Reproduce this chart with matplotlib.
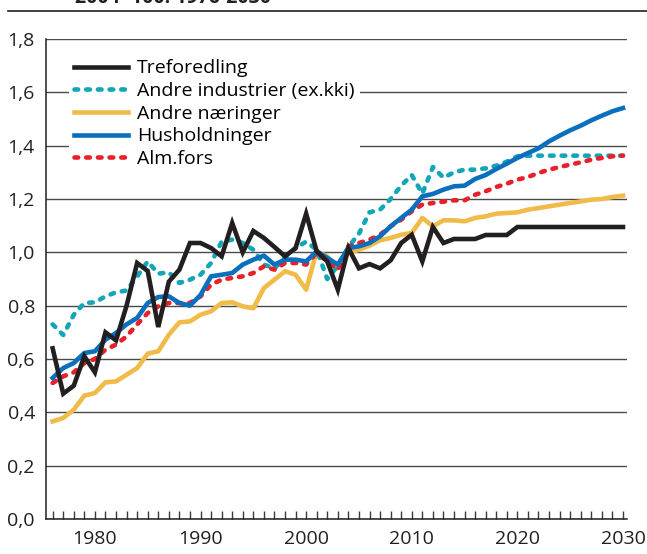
import numpy as np
import matplotlib.pyplot as plt
from matplotlib.ticker import MultipleLocator, FuncFormatter
from matplotlib.lines import Line2D

plt.rcParams['font.family'] = ['Open Sans', 'DejaVu Sans']

# ---------------------------------------------------------------------------
# Data (index), years 1976-2030
# ---------------------------------------------------------------------------
years = np.arange(1976, 2031)

treforedling = [
    0.64, 0.47, 0.50, 0.61, 0.55, 0.70, 0.67, 0.80, 0.96, 0.93,
    0.72, 0.89, 0.935, 1.035, 1.035, 1.016, 0.985, 1.11, 1.00, 1.08,
    1.054, 1.02, 0.985, 1.016, 1.145, 1.004, 0.966, 0.86, 1.016, 0.94,
    0.956, 0.94, 0.97, 1.035, 1.066, 0.966, 1.095, 1.035, 1.05, 1.05,
    1.05, 1.065, 1.065, 1.065, 1.095, 1.095, 1.095, 1.095, 1.095, 1.095,
    1.095, 1.095, 1.095, 1.095, 1.095,
]

andre_industrier = [
    0.73, 0.69, 0.766, 0.81, 0.8125, 0.835, 0.85, 0.857, 0.91, 0.966,
    0.92, 0.925, 0.885, 0.8975, 0.916, 0.96, 1.04, 1.0475, 1.035, 1.01,
    0.954, 0.94, 0.979, 1.016, 1.04, 1.01, 0.90, 0.95, 1.02, 1.07,
    1.15, 1.16, 1.20, 1.25, 1.29, 1.22, 1.32, 1.28, 1.30, 1.31,
    1.31, 1.315, 1.325, 1.34, 1.36, 1.3625, 1.3625, 1.3625, 1.3625, 1.3625,
    1.3625, 1.3625, 1.3625, 1.3625, 1.3625,
]

andre_naeringer = [
    0.366, 0.379, 0.41, 0.4625, 0.4725, 0.5125, 0.516, 0.541, 0.566, 0.62,
    0.629, 0.691, 0.7375, 0.741, 0.766, 0.779, 0.81, 0.8125, 0.7975, 0.79,
    0.866, 0.8975, 0.929, 0.916, 0.86, 1.004, 0.985, 0.94, 0.9975, 1.01,
    1.025, 1.045, 1.054, 1.066, 1.0725, 1.129, 1.0975, 1.12, 1.12, 1.116,
    1.129, 1.135, 1.145, 1.1475, 1.15, 1.16, 1.166, 1.1725, 1.179, 1.185,
    1.191, 1.1975, 1.20, 1.2075, 1.2125,
]

husholdninger = [
    0.529, 0.566, 0.585, 0.6225, 0.629, 0.6725, 0.6975, 0.73, 0.754, 0.81,
    0.8325, 0.835, 0.81, 0.80, 0.84, 0.91, 0.916, 0.9225, 0.954, 0.9725,
    0.9875, 0.954, 0.9725, 0.9725, 0.966, 1.004, 0.979, 0.954, 1.016, 1.0225,
    1.035, 1.06, 1.0975, 1.129, 1.16, 1.21, 1.219, 1.235, 1.2475, 1.25,
    1.275, 1.29, 1.3125, 1.3325, 1.354, 1.3725, 1.39, 1.416, 1.4375, 1.4575,
    1.475, 1.495, 1.5125, 1.529, 1.541,
]

alm_fors = [
    0.51, 0.535, 0.55, 0.585, 0.60, 0.635, 0.654, 0.685, 0.73, 0.7725,
    0.7975, 0.81, 0.81, 0.81, 0.835, 0.879, 0.8975, 0.904, 0.91, 0.9225,
    0.9475, 0.935, 0.96, 0.96, 0.954, 0.9975, 0.966, 0.935, 1.0225, 1.035,
    1.0475, 1.066, 1.0975, 1.1225, 1.154, 1.179, 1.185, 1.19, 1.195, 1.195,
    1.216, 1.229, 1.245, 1.2575, 1.2725, 1.2825, 1.2975, 1.31, 1.32, 1.329,
    1.3375, 1.3475, 1.354, 1.36, 1.3625,
]

# ---------------------------------------------------------------------------
# Figure
# ---------------------------------------------------------------------------
COL_SORT = "#231f20"
COL_TEAL = "#12a6b6"
COL_GUL = "#f0bb48"
COL_BLA = "#0a6fbd"
COL_ROD = "#e8202a"

fig = plt.figure(figsize=(6.47, 5.54), dpi=100)
ax = fig.add_axes([46 / 647, 1 - 519 / 554, (627 - 46) / 647, (519 - 39) / 554])

LW = 3.3
prikk = (0, (0.8, 1.75))

ax.plot(years, treforedling, color=COL_SORT, lw=LW, zorder=5,
        solid_joinstyle="miter", label="Treforedling")
ax.plot(years, andre_industrier, color=COL_TEAL, lw=LW, ls=prikk,
        dash_capstyle="round", zorder=3, label="Andre industrier (ex.kki)")
ax.plot(years, andre_naeringer, color=COL_GUL, lw=LW, zorder=2,
        label="Andre næringer")
ax.plot(years, husholdninger, color=COL_BLA, lw=LW, zorder=4,
        label="Husholdninger")
ax.plot(years, alm_fors, color=COL_ROD, lw=LW, ls=prikk,
        dash_capstyle="round", zorder=3, label="Alm.fors")

ax.set_xlim(1975.37, 2030.38)
ax.set_ylim(0, 1.8)

ax.yaxis.set_major_locator(MultipleLocator(0.2))
ax.yaxis.set_major_formatter(FuncFormatter(lambda v, p: f"{v:.1f}".replace(".", ",")))
ax.xaxis.set_major_locator(MultipleLocator(10))
ax.xaxis.set_minor_locator(MultipleLocator(1))

ax.grid(axis="y", color="#4a4a4a", lw=1.0, zorder=0)
ax.set_axisbelow(True)

for s in ["top", "right"]:
    ax.spines[s].set_visible(False)
ax.spines["left"].set_color("#231f20")
ax.spines["bottom"].set_color("#231f20")
ax.spines["left"].set_linewidth(1.1)
ax.spines["bottom"].set_linewidth(1.1)

ax.tick_params(axis="y", length=0, pad=8, labelsize=14, labelcolor="#231f20")
ax.tick_params(axis="x", which="both", direction="in", length=6, width=1,
               color="#3a3a3a", pad=8, labelsize=14, labelcolor="#231f20")

leg = ax.legend(loc="upper left", bbox_to_anchor=(0.039, 0.969), fontsize=14,
                frameon=True, framealpha=1, edgecolor="white", fancybox=False,
                handlelength=2.75, handletextpad=0.5, labelspacing=0.24,
                borderpad=0.28, borderaxespad=0)
leg.get_frame().set_linewidth(0)
leg.set_zorder(6)

# title line at the top (cropped in the reference)
fig.text(75 / 647, 1 - 3 / 554, "2004=100. 1976-2030", fontsize=14,
         fontweight="bold", color="#231f20", va="baseline", ha="left")
fig.add_artist(Line2D([8 / 647, 1.0], [1 - 11 / 554, 1 - 11 / 554],
                      color="#231f20", lw=1.2))

fig.savefig("out.png", dpi=100)
